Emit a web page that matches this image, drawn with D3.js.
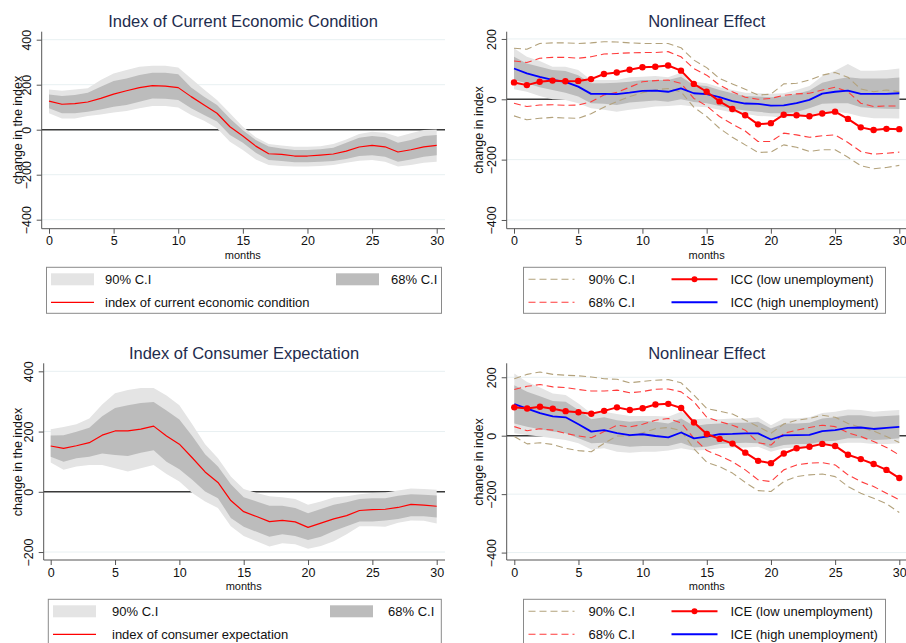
<!DOCTYPE html>
<html>
<head>
<meta charset="utf-8">
<script src="https://cdn.jsdelivr.net/npm/d3@7"></script>
<style>
  html, body { margin: 0; padding: 0; background: #fff; }
  svg { display: block; font-family: "Liberation Sans", Arial, sans-serif; }
</style>
</head>
<body>
<svg id="chart" width="906" height="643"></svg>
<script>
// ---- data: impulse responses over 30 months ----
const months = [0,1,2,3,4,5,6,7,8,9,10,11,12,13,14,15,16,17,18,19,20,21,22,23,24,25,26,27,28,29,30];

// Index of Current Economic Condition (linear model)
const iccMean = [127,113,116,123,139,158,173,187,196,194,187,147,110,73,13,-28,-73,-107,-110,-117,-117,-113,-108,-95,-77,-70,-76,-99,-89,-76,-70];
const icc68Hi = [157,150,154,164,191,216,228,243,253,253,247,188,147,110,50,-2,-46,-75,-83,-90,-90,-87,-80,-58,-36,-28,-34,-58,-46,-28,-24];
const icc68Lo = [95,73,73,80,90,102,110,124,139,138,132,95,65,36,-24,-58,-102,-135,-139,-145,-145,-142,-139,-130,-117,-113,-120,-142,-132,-120,-114];
const icc90Hi = [179,173,179,184,221,250,265,280,284,284,277,228,179,132,73,13,-34,-64,-70,-76,-76,-73,-64,-43,-19,-9,-13,-31,-16,-1,1];
const icc90Lo = [73,50,50,61,68,76,83,95,105,105,99,65,40,6,-53,-90,-132,-157,-161,-164,-164,-161,-157,-147,-138,-135,-142,-164,-157,-147,-142];

// ICC nonlinear model: low unemployment regime
const iccLow = [56,47,58,62,60,61,67,84,89,98,106,108,112,95,51,25,-7,-32,-53,-83,-79,-51,-53,-56,-47,-41,-65,-93,-102,-98,-99];
const iccLow68Hi = [127,122,136,139,139,136,141,150,152,154,155,155,158,141,102,80,47,25,7,0,3,13,18,20,31,40,25,-13,-24,-22,-22];
const iccLow68Lo = [-13,-24,-19,-18,-20,-19,-8,14,23,40,58,62,64,53,3,-22,-57,-82,-105,-140,-140,-112,-118,-126,-121,-118,-143,-173,-182,-179,-175];
const iccLow90Hi = [169,166,185,187,187,185,187,191,190,187,185,185,185,171,130,105,69,51,33,14,17,51,53,64,80,89,73,34,25,31,25];
const iccLow90Lo = [-55,-68,-63,-60,-62,-63,-48,-26,-8,9,22,31,36,25,-26,-57,-96,-126,-151,-176,-175,-151,-159,-173,-167,-167,-192,-220,-230,-226,-219];
// ICC nonlinear model: high unemployment regime
const iccHigh = [102,86,74,64,58,42,18,18,17,22,28,29,25,36,20,17,7,-6,-14,-15,-21,-20,-13,-2,19,25,29,18,18,18,20];
const iccHigh68Hi = [141,119,108,97,94,80,53,53,55,58,64,64,64,75,47,44,31,20,11,9,7,9,18,29,55,66,73,69,69,69,72];
const iccHigh68Lo = [64,53,40,31,22,9,-13,-15,-19,-11,-7,-4,-8,0,-9,-13,-22,-31,-37,-41,-46,-46,-42,-30,-15,-13,-13,-26,-30,-31,-32];
const iccHigh90Hi = [169,141,127,108,108,97,64,64,64,73,75,77,73,88,58,53,40,31,22,20,18,20,31,44,77,95,117,95,95,97,102];
const iccHigh90Lo = [33,25,11,0,-2,-13,-30,-35,-41,-35,-30,-24,-22,-19,-24,-26,-35,-44,-48,-55,-57,-60,-57,-52,-42,-41,-46,-57,-63,-63,-64];

// Index of Consumer Expectation (linear model)
const iceMean = [152,144,153,163,188,202,202,208,218,185,158,113,66,31,-29,-66,-82,-99,-95,-100,-118,-104,-90,-79,-62,-59,-58,-52,-42,-44,-48];
const ice68Hi = [187,188,199,213,251,278,287,295,298,270,240,185,125,84,25,-18,-32,-46,-46,-54,-71,-57,-43,-35,-24,-21,-21,-13,-8,-10,-12];
const ice68Lo = [116,100,111,116,127,122,119,130,138,100,75,40,1,-21,-87,-116,-133,-149,-141,-147,-160,-149,-130,-114,-99,-99,-95,-90,-81,-81,-85];
const ice90Hi = [208,215,224,243,290,327,338,345,345,320,287,224,158,111,51,9,-4,-15,-18,-24,-43,-32,-19,-15,-8,-4,-2,4,11,9,7];
const ice90Lo = [97,73,84,89,89,78,67,78,89,59,34,-4,-32,-54,-114,-147,-164,-182,-171,-174,-189,-180,-164,-141,-114,-114,-116,-103,-95,-96,-105];

// ICE nonlinear model: low unemployment regime
const iceLow = [97,93,99,92,84,80,75,85,97,88,94,107,109,95,45,6,-11,-27,-58,-86,-94,-61,-43,-38,-28,-35,-65,-80,-97,-117,-145];
const iceLow68Hi = [158,169,175,167,165,158,153,153,156,147,151,159,160,150,116,63,48,36,19,-24,-32,8,19,28,36,31,10,-3,-20,-40,-66];
const iceLow68Lo = [31,17,24,19,8,-1,-7,14,36,30,39,53,59,44,-9,-51,-69,-89,-117,-151,-157,-117,-100,-94,-92,-100,-134,-157,-174,-197,-219];
const iceLow90Hi = [195,210,218,210,207,205,201,195,193,181,186,190,192,181,139,93,84,74,53,31,8,40,53,59,70,63,42,28,16,-3,-23];
const iceLow90Lo = [-3,-28,-24,-30,-43,-51,-55,-26,-1,-1,10,24,28,17,-45,-91,-106,-128,-160,-188,-191,-157,-140,-134,-131,-140,-174,-197,-214,-233,-263];
// ICE nonlinear model: high unemployment regime
const iceHigh = [108,93,77,66,63,39,14,19,9,2,5,-1,-6,11,-9,-3,5,6,8,8,-13,1,2,3,16,19,27,28,23,27,30];
const iceHigh68Hi = [173,150,135,119,116,88,56,63,53,48,51,48,42,59,33,39,42,44,44,48,25,42,42,44,59,63,70,70,65,67,70];
const iceHigh68Lo = [42,31,22,14,8,-9,-26,-24,-32,-38,-35,-35,-35,-24,-40,-38,-28,-26,-24,-26,-43,-32,-28,-28,-20,-17,-9,-9,-15,-13,-9];
const iceHigh90Hi = [213,184,165,144,139,110,76,82,74,67,67,67,65,82,56,59,56,59,59,63,36,59,59,63,78,82,90,88,82,85,88];
const iceHigh90Lo = [8,2,-3,-9,-15,-26,-47,-43,-55,-58,-55,-55,-51,-43,-51,-49,-43,-40,-40,-38,-55,-43,-40,-38,-32,-28,-24,-24,-28,-28,-26];

// axis tick labels
const xTicks = [0,5,10,15,20,25,30];
const yTicksICC = [-400,-200,0,200,400];
const yTicksNonlin = [-400,-200,0,200];
const yTicksICE = [-200,0,200,400];

// ---- styling ----
const C = {
  band90: "#e4e4e4",
  band68: "#bcbcbc",
  red: "#ff0000",
  blue: "#0000ff",
  tan: "#b3a27c",
  redDash: "#ff3b3b",
  grid: "#e8f0f2",
  axis: "#555555",
  zero: "#3a3a3a",
  title: "#1e2c4e",
  text: "#111111"
};

const svg = d3.select("#chart");

// build one panel frame: scales, grid, axes, titles
function panel(g) {
  const root = svg.append("g");
  const x = d3.scaleLinear().domain([0, 30]).range([g.x0, g.x30]);
  const y = d3.scaleLinear()
    .domain([(g.yZero - g.bottom) / g.ppu, (g.yZero - g.top) / g.ppu])
    .range([g.bottom, g.top]);

  // horizontal gridlines
  root.append("g").selectAll("line").data(g.yTicks).join("line")
    .attr("x1", g.axisX).attr("x2", g.right)
    .attr("y1", d => y(d)).attr("y2", d => y(d))
    .attr("stroke", C.grid).attr("stroke-width", 1);

  // zero reference line
  root.append("line")
    .attr("x1", g.axisX).attr("x2", g.right)
    .attr("y1", y(0)).attr("y2", y(0))
    .attr("stroke", C.zero).attr("stroke-width", 1.4);

  const plot = root.append("g");

  // y axis
  const ya = root.append("g").attr("transform", `translate(${g.axisX},0)`)
    .call(d3.axisLeft(y).tickValues(g.yTicks).tickSize(5).tickFormat(d3.format("d")));
  ya.select(".domain").attr("d", `M0,${g.top}V${g.bottom}`).attr("stroke", C.axis);
  ya.selectAll(".tick line").attr("stroke", C.axis);
  ya.selectAll(".tick text")
    .attr("x", null).attr("dy", null)
    .attr("transform", "translate(-15,0) rotate(-90)")
    .attr("text-anchor", "middle").attr("dominant-baseline", "central")
    .attr("font-size", 12.5).attr("fill", C.text)
    .attr("font-family", "Liberation Sans, Arial, sans-serif");

  // x axis
  const xa = root.append("g").attr("transform", `translate(0,${g.bottom})`)
    .call(d3.axisBottom(x).tickValues(xTicks).tickSize(5));
  xa.select(".domain").attr("d", `M${g.axisX},0H${g.right}`).attr("stroke", C.axis);
  xa.selectAll(".tick line").attr("stroke", C.axis);
  xa.selectAll(".tick text")
    .attr("y", 12.5).attr("dy", null).attr("dominant-baseline", "central")
    .attr("font-size", 12.5).attr("fill", C.text)
    .attr("font-family", "Liberation Sans, Arial, sans-serif");

  // titles
  root.append("text").attr("x", g.titleX).attr("y", g.titleY)
    .attr("text-anchor", "middle").attr("dominant-baseline", "central")
    .attr("font-size", 16.5).attr("fill", C.title).text(g.title);
  root.append("text").attr("transform", `translate(${g.yTitleX},${g.yTitleY}) rotate(-90)`)
    .attr("text-anchor", "middle").attr("dominant-baseline", "central")
    .attr("font-size", 12.5).attr("fill", C.text).text(g.yTitle);
  root.append("text").attr("x", (g.x0 + g.x30) / 2).attr("y", g.bottom + 26)
    .attr("text-anchor", "middle").attr("dominant-baseline", "central")
    .attr("font-size", 11).attr("fill", C.text).text("months");

  return { x, y, plot };
}

function band(p, lo, hi, fill) {
  const area = d3.area().x((d, i) => p.x(months[i])).y0((d, i) => p.y(lo[i])).y1((d, i) => p.y(hi[i]));
  p.plot.append("path").datum(lo).attr("d", area).attr("fill", fill).attr("stroke", "none");
}

function line(p, vals, color, width, dash) {
  const ln = d3.line().x((d, i) => p.x(months[i])).y(d => p.y(d));
  p.plot.append("path").datum(vals).attr("d", ln)
    .attr("fill", "none").attr("stroke", color).attr("stroke-width", width)
    .attr("stroke-dasharray", dash || null).attr("stroke-linejoin", "round");
}

function dots(p, vals, color) {
  p.plot.append("g").selectAll("circle").data(vals).join("circle")
    .attr("cx", (d, i) => p.x(months[i])).attr("cy", d => p.y(d))
    .attr("r", 3.2).attr("fill", color);
}

// linear model panel
function linearPanel(g, mean, lo68, hi68, lo90, hi90) {
  const p = panel(g);
  band(p, lo90, hi90, C.band90);
  band(p, lo68, hi68, C.band68);
  line(p, mean, C.red, 1.2);
}

// nonlinear model panel
function nonlinearPanel(g, low, l68lo, l68hi, l90lo, l90hi, high, h68lo, h68hi, h90lo, h90hi) {
  const p = panel(g);
  band(p, h90lo, h90hi, C.band90);
  band(p, h68lo, h68hi, C.band68);
  line(p, l90hi, C.tan, 1.1, "7,4");
  line(p, l90lo, C.tan, 1.1, "7,4");
  line(p, l68hi, C.redDash, 1.1, "7,4");
  line(p, l68lo, C.redDash, 1.1, "7,4");
  line(p, high, C.blue, 1.8);
  line(p, low, C.red, 2);
  dots(p, low, C.red);
}

// legend boxes
function legendLinear(L, meanLabel) {
  const g = svg.append("g");
  g.append("rect").attr("x", L.x).attr("y", L.y).attr("width", L.w).attr("height", 46)
    .attr("fill", "#fff").attr("stroke", "#8a8a8a").attr("stroke-width", 1);
  const r1 = L.y + 12, r2 = L.y + 35;
  g.append("rect").attr("x", L.sw1).attr("y", r1 - 6).attr("width", 43).attr("height", 12).attr("fill", C.band90);
  g.append("rect").attr("x", L.sw2).attr("y", r1 - 6).attr("width", 43).attr("height", 12).attr("fill", C.band68);
  g.append("line").attr("x1", L.sw1).attr("x2", L.sw1 + 43).attr("y1", r2).attr("y2", r2)
    .attr("stroke", C.red).attr("stroke-width", 1.3);
  const t = (x, y, s) => g.append("text").attr("x", x).attr("y", y).attr("dominant-baseline", "central")
    .attr("font-size", 13).attr("fill", C.text).text(s);
  t(L.t1, r1, "90% C.I");
  t(L.t2, r1, "68% C.I");
  t(L.t1, r2, meanLabel);
}

function legendNonlinear(L, lowLabel, highLabel) {
  const g = svg.append("g");
  g.append("rect").attr("x", L.x).attr("y", L.y).attr("width", L.w).attr("height", 46)
    .attr("fill", "#fff").attr("stroke", "#8a8a8a").attr("stroke-width", 1);
  const r1 = L.y + 12, r2 = L.y + 35;
  const seg = (x1, x2, y, color, w, dash) => g.append("line").attr("x1", x1).attr("x2", x2)
    .attr("y1", y).attr("y2", y).attr("stroke", color).attr("stroke-width", w)
    .attr("stroke-dasharray", dash || null);
  seg(L.x + 5, L.x + 51, r1, C.tan, 1.1, "7,4");
  seg(L.x + 5, L.x + 51, r2, C.redDash, 1.1, "7,4");
  seg(L.x + 148, L.x + 194, r1, C.red, 2);
  g.append("circle").attr("cx", L.x + 171).attr("cy", r1).attr("r", 3).attr("fill", C.red);
  seg(L.x + 148, L.x + 194, r2, C.blue, 2);
  const t = (x, y, s) => g.append("text").attr("x", x).attr("y", y).attr("dominant-baseline", "central")
    .attr("font-size", 13).attr("fill", C.text).text(s);
  t(L.x + 65, r1, "90% C.I");
  t(L.x + 65, r2, "68% C.I");
  t(L.x + 207, r1, lowLabel);
  t(L.x + 207, r2, highLabel);
}

// ---- panels ----
linearPanel({
  axisX: 41.7, right: 445, yZero: 129.7, ppu: 0.225, top: 31.7, bottom: 228.7,
  x0: 49, x30: 436.7, yTicks: yTicksICC,
  title: "Index of Current Economic Condition", titleX: 243, titleY: 20.7,
  yTitle: "change in the index", yTitleX: 18, yTitleY: 130
}, iccMean, icc68Lo, icc68Hi, icc90Lo, icc90Hi);

nonlinearPanel({
  axisX: 506.7, right: 906, yZero: 99.3, ppu: 0.3017, top: 31.7, bottom: 228.7,
  x0: 514, x30: 899.3, yTicks: yTicksNonlin,
  title: "Nonlinear Effect", titleX: 706.7, titleY: 20.7,
  yTitle: "change in index", yTitleX: 479, yTitleY: 130
}, iccLow, iccLow68Lo, iccLow68Hi, iccLow90Lo, iccLow90Hi,
   iccHigh, iccHigh68Lo, iccHigh68Hi, iccHigh90Lo, iccHigh90Hi);

linearPanel({
  axisX: 43.7, right: 445, yZero: 491.8, ppu: 0.3012, top: 363.3, bottom: 560,
  x0: 50.7, x30: 436.7, yTicks: yTicksICE,
  title: "Index of Consumer Expectation", titleX: 244, titleY: 352.7,
  yTitle: "change in the index", yTitleX: 18, yTitleY: 462
}, iceMean, ice68Lo, ice68Hi, ice90Lo, ice90Hi);

nonlinearPanel({
  axisX: 506.7, right: 906, yZero: 435.7, ppu: 0.2922, top: 363.3, bottom: 560,
  x0: 514.3, x30: 899.3, yTicks: yTicksNonlin,
  title: "Nonlinear Effect", titleX: 706.7, titleY: 352.7,
  yTitle: "change in index", yTitleX: 479, yTitleY: 462
}, iceLow, iceLow68Lo, iceLow68Hi, iceLow90Lo, iceLow90Hi,
   iceHigh, iceHigh68Lo, iceHigh68Hi, iceHigh90Lo, iceHigh90Hi);

// ---- legends ----
legendLinear({ x: 46.5, y: 267.3, w: 395, sw1: 51, sw2: 336, t1: 105, t2: 391 }, "index of current economic condition");
legendNonlinear({ x: 523.5, y: 267.3, w: 362 }, "ICC (low unemployment)", "ICC (high unemployment)");
legendLinear({ x: 48.3, y: 599.3, w: 393, sw1: 53, sw2: 330, t1: 112, t2: 388 }, "index of consumer expectation");
legendNonlinear({ x: 523.5, y: 599.3, w: 362 }, "ICE (low unemployment)", "ICE (high unemployment)");
</script>
</body>
</html>
